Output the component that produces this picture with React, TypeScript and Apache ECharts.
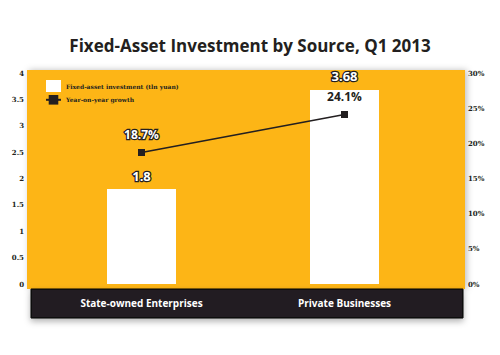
import React, { useEffect, useRef } from "react";
import * as echarts from "echarts";

const categories = ["State-owned Enterprises", "Private Businesses"];
const investment = [1.8, 3.68];
const growth = [18.7, 24.1];
const leftTicks = { min: 0, max: 4, interval: 0.5 };
const rightTicks = { min: 0, max: 30, interval: 5 };

export default function App() {
  const ref = useRef<HTMLDivElement>(null);
  useEffect(() => {
    const chart = echarts.init(ref.current!, null, { renderer: "svg" });
    const tickFont = { fontFamily: "DejaVu Serif", fontWeight: "bold", fontSize: 7, color: "#231f20" };
    chart.setOption({
      animation: false,
      backgroundColor: "#ffffff",
      title: {
        text: "Fixed-Asset Investment by Source, Q1 2013",
        left: "center",
        top: 32,
        textStyle: { fontFamily: "Open Sans", fontWeight: "bold", fontSize: 17, color: "#231f20" },
      },
      graphic: [
        {
          type: "rect",
          shape: { x: 27, y: 70, width: 438, height: 219 },
          style: { fill: "#FDB515", shadowBlur: 6, shadowColor: "rgba(0,0,0,0.25)", shadowOffsetX: 2, shadowOffsetY: 0 },
          z: -10,
        },
        {
          type: "rect",
          shape: { x: 31, y: 289, width: 432, height: 29 },
          style: { fill: "#231f20", stroke: "#000", lineWidth: 1, shadowBlur: 6, shadowColor: "rgba(0,0,0,0.3)", shadowOffsetY: 3 },
          z: -10,
        },
      ],
      legend: {
        orient: "vertical",
        left: 40,
        top: 75,
        itemWidth: 15,
        itemHeight: 12,
        itemGap: 3,
        textStyle: { fontFamily: "DejaVu Serif", fontWeight: "bold", fontSize: 6, color: "#231f20" },
        data: [
          { name: "Fixed-asset investment (tln yuan)", icon: "rect" },
          { name: "Year-on-year growth" },
        ],
      },
      grid: { left: 40, right: 54, top: 73, bottom: 71 },
      xAxis: {
        type: "category",
        data: categories,
        axisLine: { show: false },
        axisTick: { show: false },
        axisLabel: { color: "#ffffff", fontFamily: "Open Sans", fontWeight: "bold", fontSize: 10, margin: 14 },
      },
      yAxis: [
        {
          type: "value",
          ...leftTicks,
          splitLine: { show: false },
          axisLine: { show: false },
          axisTick: { show: false },
          axisLabel: { ...tickFont, margin: 16 },
        },
        {
          type: "value",
          ...rightTicks,
          splitLine: { show: false },
          axisLine: { show: false },
          axisTick: { show: false },
          axisLabel: { ...tickFont, margin: 22, formatter: "{value}%" },
        },
      ],
      series: [
        {
          name: "Fixed-asset investment (tln yuan)",
          type: "bar",
          data: investment,
          barWidth: 69,
          itemStyle: { color: "#ffffff" },
          label: {
            show: true,
            position: "top",
            distance: 7,
            fontFamily: "Open Sans",
            fontWeight: "bold",
            fontSize: 13,
            color: "#ffffff",
            textBorderColor: "#231f20",
            textBorderWidth: 2.5,
          },
        },
        {
          name: "Year-on-year growth",
          type: "line",
          yAxisIndex: 1,
          symbol: "rect",
          symbolSize: 7,
          lineStyle: { color: "#231f20", width: 1.5 },
          itemStyle: { color: "#231f20" },
          data: growth.map((v, i) => ({
            value: v,
            label: i === 0
              ? { color: "#ffffff", textBorderColor: "#231f20", textBorderWidth: 2.5 }
              : { color: "#231f20", textBorderWidth: 0 },
          })),
          label: {
            show: true,
            position: "top",
            distance: 8,
            fontFamily: "Open Sans",
            fontWeight: "bold",
            fontSize: 12,
            formatter: "{c}%",
          },
        },
      ],
    });
    return () => chart.dispose();
  }, []);
  return <div ref={ref} style={{ position: "fixed", left: 0, top: 0, width: 500, height: 355 }} />;
}
